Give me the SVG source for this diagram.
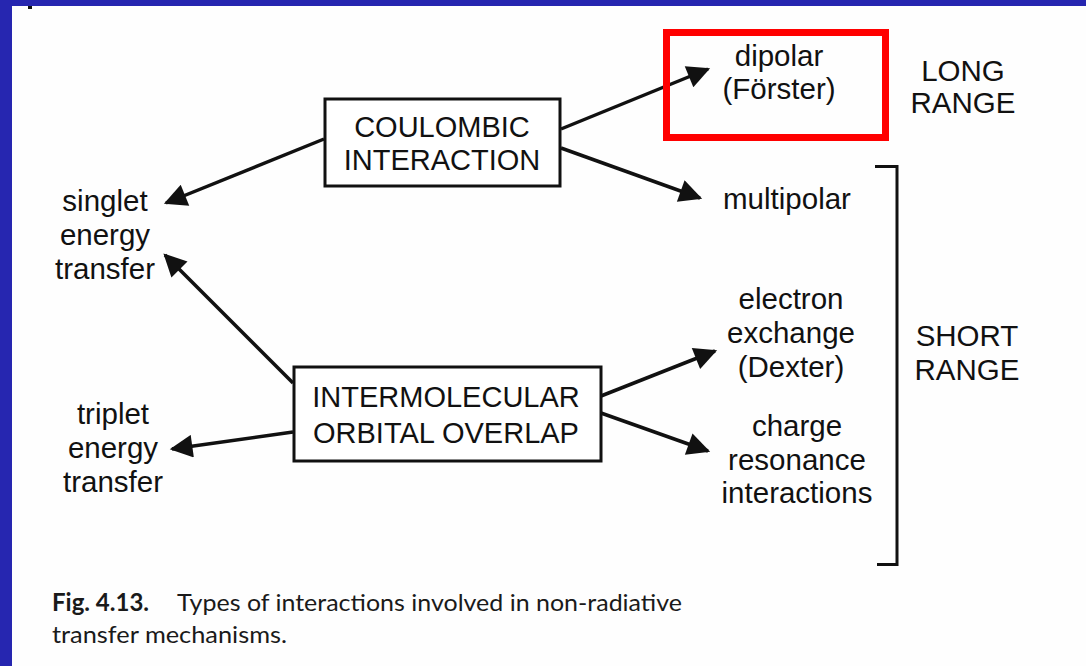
<svg xmlns="http://www.w3.org/2000/svg" width="1086" height="666" viewBox="0 0 1086 666">
<defs>
<style>
.t{font-family:"Liberation Sans",Arial,sans-serif;font-size:29.5px;fill:#111;text-anchor:middle}
.b{font-family:"Liberation Sans",Arial,sans-serif;font-size:29px;fill:#111;text-anchor:middle}
.box{fill:#fff;stroke:#111;stroke-width:3}
.c{stroke:#111;stroke-width:3.5;fill:none;marker-end:url(#ah)}
.cap{font-family:Lato,"Open Sans",sans-serif;font-size:24px;fill:#1a1a1a}
</style>
<marker id="ah" viewBox="0 0 10 10" refX="9" refY="5" markerWidth="7.5" markerHeight="6.5" markerUnits="strokeWidth" orient="auto">
<path d="M0,0 L10,5 L0,10 z" fill="#111"/>
</marker>
</defs>
<rect x="0" y="0" width="1086" height="666" fill="#2626B0"/>
<rect x="12" y="6" width="1074" height="660" fill="#fefefe"/>
<rect x="28" y="6" width="4" height="3" fill="#111"/>

<g id="connectors">
<line class="c" x1="561" y1="129" x2="708" y2="69"/>
<line class="c" x1="561" y1="148" x2="700" y2="198"/>
<line class="c" x1="324" y1="139" x2="166" y2="203"/>
<line class="c" x1="293" y1="383" x2="165" y2="255"/>
<line class="c" x1="293" y1="432" x2="172" y2="449"/>
<line class="c" x1="601" y1="396" x2="715" y2="351"/>
<line class="c" x1="601" y1="413" x2="708" y2="451"/>
</g>

<g id="coulombic">
<rect class="box" x="325" y="99" width="235" height="87"/>
<text class="b" x="442" y="137">COULOMBIC</text>
<text class="b" x="442" y="170">INTERACTION</text>
</g>

<g id="intermolecular">
<rect class="box" x="294" y="367" width="307" height="94"/>
<text class="b" x="446" y="407">INTERMOLECULAR</text>
<text class="b" x="446" y="443">ORBITAL OVERLAP</text>
</g>

<g id="dipolar">
<rect x="666.5" y="32.5" width="219" height="105" fill="none" stroke="#ff0000" stroke-width="7"/>
<text class="t" x="779" y="66">dipolar</text>
<text class="t" x="779" y="99">(Förster)</text>
</g>

<g id="long-range">
<text class="t" x="963" y="81">LONG</text>
<text class="t" x="963" y="113">RANGE</text>
</g>

<g id="singlet">
<text class="t" x="105" y="211">singlet</text>
<text class="t" x="105" y="245">energy</text>
<text class="t" x="105" y="279">transfer</text>
</g>

<g id="triplet">
<text class="t" x="113" y="424">triplet</text>
<text class="t" x="113" y="458">energy</text>
<text class="t" x="113" y="492">transfer</text>
</g>

<g id="multipolar">
<text class="t" x="787" y="209">multipolar</text>
</g>

<g id="electron-exchange">
<text class="t" x="791" y="309">electron</text>
<text class="t" x="791" y="343">exchange</text>
<text class="t" x="791" y="377">(Dexter)</text>
</g>

<g id="charge-resonance">
<text class="t" x="797" y="436">charge</text>
<text class="t" x="797" y="470">resonance</text>
<text class="t" x="797" y="503">interactions</text>
</g>

<g id="short-range">
<path d="M875,166.5 H897 V564.5 H877" fill="none" stroke="#111" stroke-width="3"/>
<text class="t" x="967" y="346">SHORT</text>
<text class="t" x="967" y="380">RANGE</text>
</g>

<g id="caption">
<text class="cap" x="52" y="611"><tspan font-weight="bold" textLength="97" lengthAdjust="spacingAndGlyphs">Fig. 4.13.</tspan><tspan x="177" textLength="505" lengthAdjust="spacingAndGlyphs">Types of interactions involved in non-radiative</tspan></text>
<text class="cap" x="52" y="643" textLength="235" lengthAdjust="spacingAndGlyphs">transfer mechanisms.</text>
</g>
</svg>
